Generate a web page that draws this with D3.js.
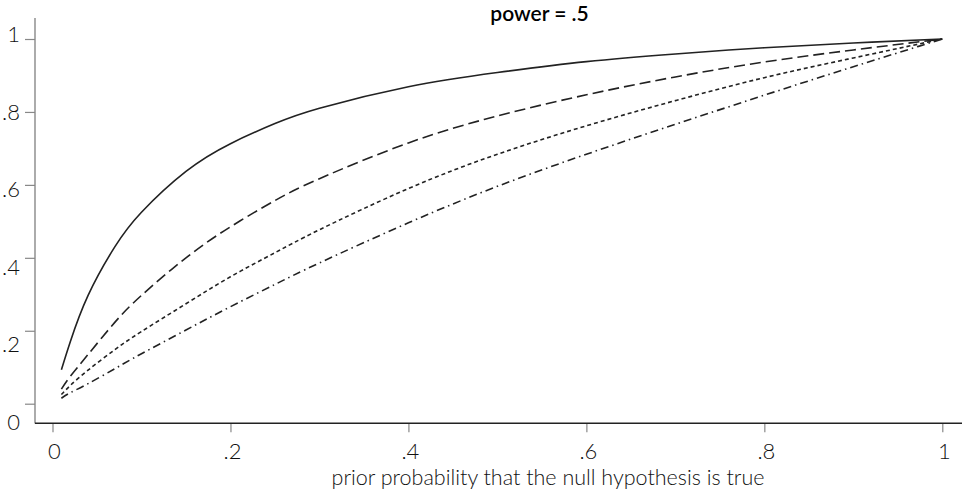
<!DOCTYPE html>
<html>
<head>
<meta charset="utf-8">
<script src="https://cdn.jsdelivr.net/npm/d3@7"></script>
<style>
  body { margin: 0; background: #fff; }
  svg { display: block; }
  text { font-family: Lato, "Noto Sans", sans-serif; fill: #111; }
</style>
</head>
<body>
<div id="chart"></div>
<script>
// prior probability values and the four curves
const priorX    = [0.01, 0.02, 0.04, 0.07, 0.10, 0.15, 0.20, 0.25, 0.30, 0.40, 0.50, 0.60, 0.70, 0.80, 0.90, 1.00];
const solidY    = [0.093, 0.17, 0.297, 0.43, 0.525, 0.637, 0.713, 0.768, 0.81, 0.869, 0.908, 0.938, 0.959, 0.976, 0.989, 1.00];
const dashY     = [0.040, 0.075, 0.135, 0.223, 0.297, 0.40, 0.485, 0.557, 0.617, 0.715, 0.789, 0.847, 0.896, 0.937, 0.970, 1.00];
const dotY      = [0.025, 0.05, 0.092, 0.148, 0.198, 0.274, 0.348, 0.414, 0.477, 0.59, 0.684, 0.762, 0.831, 0.894, 0.948, 1.00];
const dashDotY  = [0.015, 0.03, 0.055, 0.096, 0.137, 0.202, 0.266, 0.327, 0.386, 0.496, 0.596, 0.684, 0.766, 0.846, 0.924, 1.00];

const xTicks = [0, 0.2, 0.4, 0.6, 0.8, 1];
const yTicks = [0, 0.2, 0.4, 0.6, 0.8, 1];
const titleText = "power = .5";
const xTitle = "prior probability that the null hypothesis is true";

const W = 964, H = 494;

const svg = d3.select("#chart").append("svg")
  .attr("width", W)
  .attr("height", H);

const x = d3.scaleLinear().domain([0, 1]).range([52.5, 942.3]);
const y = d3.scaleLinear().domain([0, 1]).range([403.7, 39]);
// tick labels on the left sit on a slightly wider spacing than the ticks
const yLab = d3.scaleLinear().domain([0, 1]).range([422, 34]);

const fmt = d => d === 0 ? "0" : d === 1 ? "1" : d3.format(".1f")(d).replace(/^0/, "");

// y axis
const yAxis = svg.append("g")
  .attr("transform", "translate(35,0)")
  .call(d3.axisLeft(y).tickValues(yTicks).tickSize(10).tickFormat(""));
yAxis.select(".domain").remove();
yAxis.selectAll(".tick line").attr("stroke", "#888").attr("stroke-width", 1.2);
svg.append("line")
  .attr("x1", 35).attr("x2", 35).attr("y1", 18).attr("y2", 423.5)
  .attr("stroke", "#888").attr("stroke-width", 1.4);

svg.append("g").selectAll("text")
  .data(yTicks)
  .join("text")
  .attr("x", 20)
  .attr("y", d => yLab(d))
  .attr("dy", "0.36em")
  .attr("text-anchor", "end")
  .style("font-size", "22px")
  .style("font-weight", 300)
  .text(fmt);

// x axis
const xAxis = svg.append("g")
  .attr("transform", "translate(0,423.3)")
  .call(d3.axisBottom(x).tickValues(xTicks).tickSize(9).tickFormat(""));
xAxis.select(".domain").remove();
xAxis.selectAll(".tick line").attr("stroke", "#888").attr("stroke-width", 1.2);
svg.append("line")
  .attr("x1", 35).attr("x2", 962).attr("y1", 423.3).attr("y2", 423.3)
  .attr("stroke", "#222").attr("stroke-width", 1.4);

svg.append("g").selectAll("text")
  .data(xTicks)
  .join("text")
  .attr("x", d => x(d) + 2)
  .attr("y", 459)
  .attr("text-anchor", "middle")
  .style("font-size", "22px")
  .style("font-weight", 300)
  .text(fmt);

svg.append("text")
  .attr("x", 548)
  .attr("y", 485)
  .attr("text-anchor", "middle")
  .style("font-size", "21.5px")
  .style("font-weight", 300)
  .text(xTitle);

svg.append("text")
  .attr("x", 539.5)
  .attr("y", 21)
  .attr("text-anchor", "middle")
  .style("font-size", "21px")
  .style("font-weight", 600)
  .style("fill", "#000")
  .text(titleText);

// curves
const series = [
  { values: solidY, dash: null },
  { values: dashY, dash: "11,5" },
  { values: dotY, dash: "4,3" },
  { values: dashDotY, dash: "8,4,1.5,4" }
];

const line = d3.line()
  .x(d => x(d[0]))
  .y(d => y(d[1]))
  .curve(d3.curveNatural);

svg.append("g").selectAll("path")
  .data(series)
  .join("path")
  .attr("d", s => line(priorX.map((p, i) => [p, s.values[i]])))
  .attr("fill", "none")
  .attr("stroke", "#222")
  .attr("stroke-width", 1.6)
  .attr("stroke-dasharray", s => s.dash);
</script>
</body>
</html>
